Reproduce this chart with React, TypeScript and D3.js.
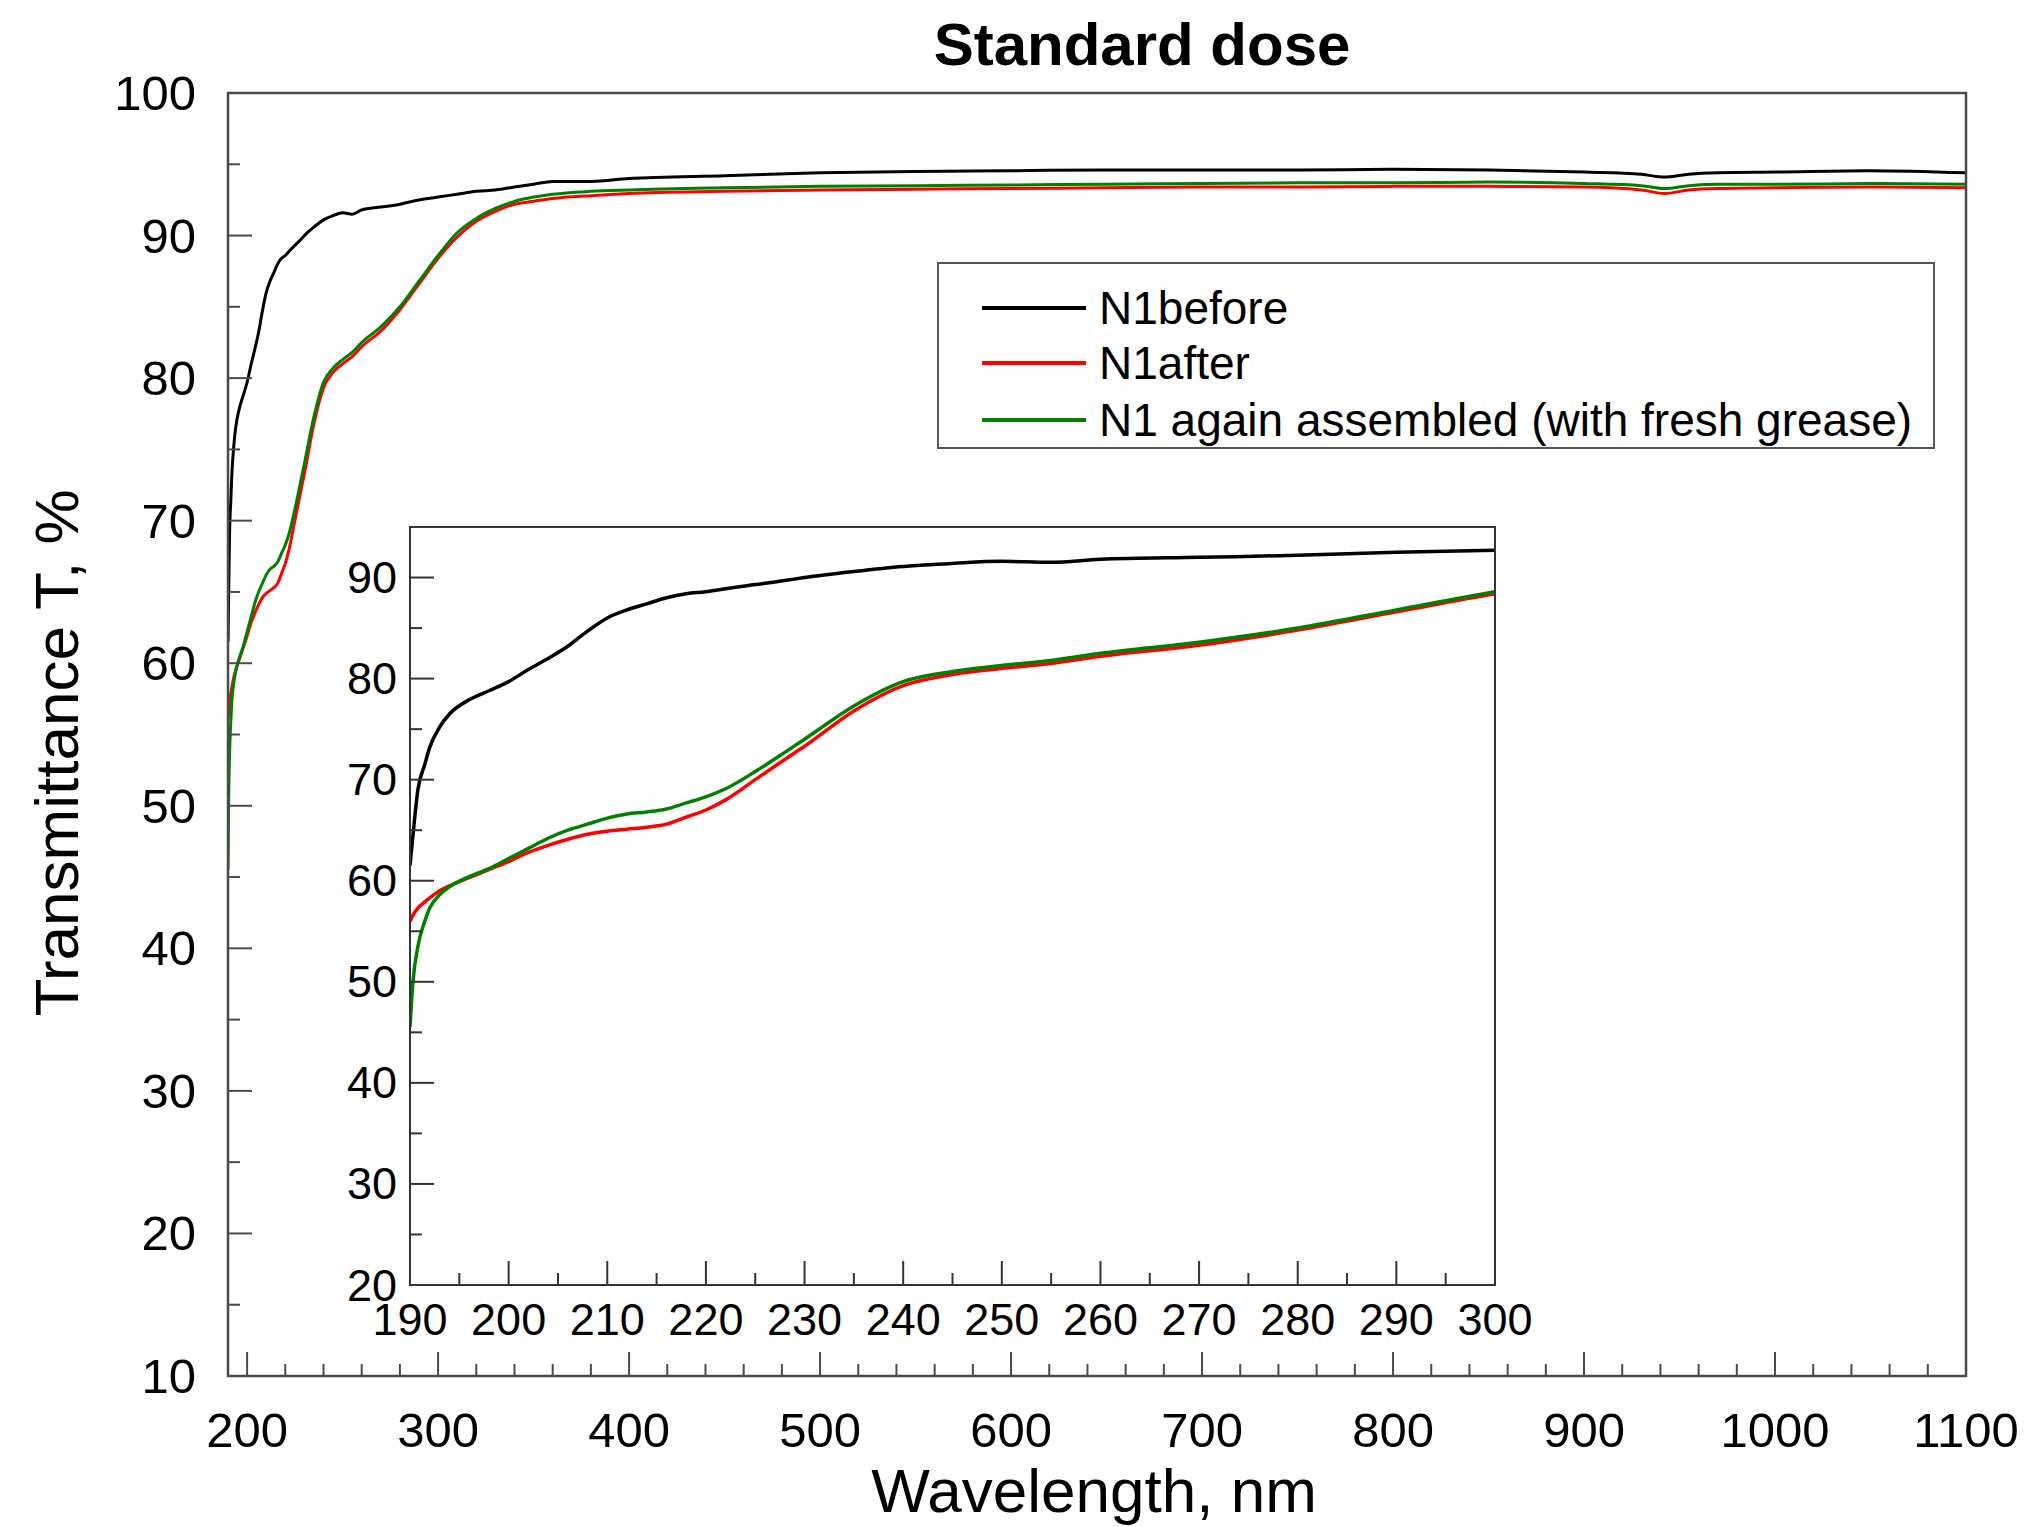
import React from "react";
import * as d3 from "d3";

const wavelengths = [
  190, 190.3, 190.8, 191.5, 192, 193, 194, 196, 198, 200, 202, 204, 206, 208, 210, 212, 214, 216, 218, 220,
  222, 225, 228, 230, 235, 240, 245, 250, 255, 260, 270, 280, 290, 300, 310, 320, 330, 340, 350, 360, 380,
  400, 450, 500, 550, 600, 650, 700, 750, 800, 850, 900, 930, 942, 955, 970, 1000, 1050, 1100,
];

const n1Before = [
  61.5, 64.5, 69.0, 71.5, 73.2, 75.2, 76.5, 77.9, 78.8, 79.7, 80.9, 82.0, 83.2, 84.7, 86.0, 86.8, 87.4, 88.0, 88.4, 88.6,
  88.9, 89.3, 89.7, 90.0, 90.6, 91.1, 91.4, 91.6, 91.5, 91.8, 92.0, 92.2, 92.5, 92.7, 92.9, 93.1, 93.2, 93.4, 93.6, 93.8, 93.8,
  94.0, 94.2, 94.4, 94.5, 94.55, 94.6, 94.6, 94.6, 94.65, 94.6, 94.45, 94.3, 94.1, 94.3, 94.4, 94.45, 94.55, 94.4,
];

const n1After = [
  56.0, 56.6, 57.3, 57.9, 58.3, 59.0, 59.5, 60.3, 61.1, 61.9, 62.8, 63.5, 64.1, 64.6, 64.9, 65.1, 65.3, 65.6, 66.3, 67.0,
  68.0, 70.0, 72.0, 73.3, 76.8, 79.3, 80.4, 81.0, 81.5, 82.2, 83.3, 84.8, 86.6, 88.4, 89.9, 91.0, 91.7, 92.2, 92.4, 92.6, 92.8,
  92.95, 93.1, 93.2, 93.25, 93.3, 93.35, 93.4, 93.4, 93.45, 93.45, 93.4, 93.2, 92.95, 93.2, 93.3, 93.35, 93.4, 93.35,
];

const n1Again = [
  45.5, 50.0, 53.5, 56.0, 57.3, 58.6, 59.4, 60.4, 61.2, 62.2, 63.2, 64.2, 65.0, 65.6, 66.2, 66.6, 66.8, 67.1, 67.7, 68.3,
  69.1, 70.8, 72.7, 74.0, 77.3, 79.7, 80.7, 81.3, 81.8, 82.5, 83.6, 85.0, 86.8, 88.6, 90.2, 91.2, 91.9, 92.4, 92.7, 92.9, 93.1,
  93.2, 93.35, 93.45, 93.5, 93.55, 93.6, 93.65, 93.7, 93.7, 93.75, 93.65, 93.5, 93.3, 93.5, 93.6, 93.6, 93.65, 93.6,
];

const seriesNames = ["N1before", "N1after", "N1 again assembled (with fresh grease)"];
const seriesColors = ["#000000", "#ff0000", "#008000"];
const seriesValues = [n1Before, n1After, n1Again];

const mainXTicks = [200, 300, 400, 500, 600, 700, 800, 900, 1000, 1100];
const mainYTicks = [10, 20, 30, 40, 50, 60, 70, 80, 90, 100];
const insetXTicks = [190, 200, 210, 220, 230, 240, 250, 260, 270, 280, 290, 300];
const insetYTicks = [20, 30, 40, 50, 60, 70, 80, 90];

const FONT = "'Liberation Sans', Arial, Helvetica, sans-serif";

export default function App() {
  // main plot
  const mL = 228, mR = 1966, mT = 93, mB = 1376;
  const x = d3.scaleLinear().domain([190, 1100]).range([mL, mR]);
  const y = d3.scaleLinear().domain([10, 100]).range([mB, mT]);
  // inset
  const iL = 410, iR = 1495, iT = 527, iB = 1285;
  const xi = d3.scaleLinear().domain([190, 300]).range([iL, iR]);
  const yi = d3.scaleLinear().domain([20, 95]).range([iB, iT]);

  const pts = (vals: number[]) => wavelengths.map((w, i) => [w, vals[i]] as [number, number]);
  const lineMain = d3.line<[number, number]>().x((d) => x(d[0])).y((d) => y(d[1])).curve(d3.curveMonotoneX);
  const lineInset = d3
    .line<[number, number]>()
    .x((d) => xi(d[0]))
    .y((d) => yi(d[1]))
    .curve(d3.curveMonotoneX);

  const mainXMinor = d3.range(220, 1100, 20).filter((v) => v % 100 !== 0);
  const mainYMinor = d3.range(15, 100, 10);
  const insetXMinor = d3.range(195, 300, 10);
  const insetYMinor = d3.range(25, 95, 10);

  const MAJ = 24, MIN = 12;
  const axisColor = "#4a4a4a";

  const legendX0 = 982, legendX1 = 1086, legendTextX = 1099;
  const legendYs = [308, 363, 420];

  return (
    <svg
      width={2030}
      height={1527}
      style={{ position: "absolute", left: 0, top: 0, background: "#fff" }}
      fontFamily={FONT}
    >
      <rect x={0} y={0} width={2030} height={1527} fill="#fff" />
      {/* title */}
      <text x={1142} y={65} fontSize={60} fontWeight="bold" textAnchor="middle">
        Standard dose
      </text>

      {/* main curves */}
      <defs>
        <clipPath id="mainClip">
          <rect x={mL} y={mT} width={mR - mL} height={mB - mT} />
        </clipPath>
        <clipPath id="insetClip">
          <rect x={iL} y={iT} width={iR - iL} height={iB - iT} />
        </clipPath>
      </defs>
      <g clipPath="url(#mainClip)">
        {seriesValues.map((vals, i) => (
          <path key={i} d={lineMain(pts(vals)) || ""} fill="none" stroke={seriesColors[i]} strokeWidth={3} />
        ))}
      </g>

      {/* main frame */}
      <rect x={mL} y={mT} width={mR - mL} height={mB - mT} fill="none" stroke={axisColor} strokeWidth={2.5} />
      {mainXTicks.map((t) => (
        <g key={"mx" + t}>
          <line x1={x(t)} x2={x(t)} y1={mB} y2={mB - MAJ} stroke={axisColor} strokeWidth={2} />
          <text x={x(t)} y={1447} fontSize={49} textAnchor="middle">
            {t}
          </text>
        </g>
      ))}
      {mainXMinor.map((t) => (
        <line key={"mxm" + t} x1={x(t)} x2={x(t)} y1={mB} y2={mB - MIN} stroke={axisColor} strokeWidth={2} />
      ))}
      {mainYTicks.map((t) => (
        <g key={"my" + t}>
          <line x1={mL} x2={mL + MAJ} y1={y(t)} y2={y(t)} stroke={axisColor} strokeWidth={2} />
          <text x={196} y={y(t)} fontSize={49} textAnchor="end" dominantBaseline="central">
            {t}
          </text>
        </g>
      ))}
      {mainYMinor.map((t) => (
        <line key={"mym" + t} x1={mL} x2={mL + MIN} y1={y(t)} y2={y(t)} stroke={axisColor} strokeWidth={2} />
      ))}

      {/* axis titles */}
      <text x={1094} y={1512} fontSize={62} textAnchor="middle">
        Wavelength, nm
      </text>
      <text transform="translate(78,753) rotate(-90)" fontSize={62} textAnchor="middle">
        Transmittance T, %
      </text>

      {/* legend */}
      <rect x={938} y={263} width={996} height={185} fill="#fff" stroke="#555" strokeWidth={2} />
      {seriesNames.map((name, i) => (
        <g key={"lg" + i}>
          <line x1={legendX0} x2={legendX1} y1={legendYs[i]} y2={legendYs[i]} stroke={seriesColors[i]} strokeWidth={4} />
          <text x={legendTextX} y={legendYs[i]} fontSize={46} dominantBaseline="central">
            {name}
          </text>
        </g>
      ))}

      {/* inset */}
      <rect x={iL} y={iT} width={iR - iL} height={iB - iT} fill="#fff" />
      <g clipPath="url(#insetClip)">
        {seriesValues.map((vals, i) => (
          <path key={"in" + i} d={lineInset(pts(vals)) || ""} fill="none" stroke={seriesColors[i]} strokeWidth={3.5} />
        ))}
      </g>
      <rect x={iL} y={iT} width={iR - iL} height={iB - iT} fill="none" stroke="#333" strokeWidth={2} />
      {insetXTicks.map((t) => (
        <g key={"ix" + t}>
          <line x1={xi(t)} x2={xi(t)} y1={iB} y2={iB - MAJ} stroke="#333" strokeWidth={2} />
          <text x={xi(t)} y={1335} fontSize={45} textAnchor="middle">
            {t}
          </text>
        </g>
      ))}
      {insetXMinor.map((t) => (
        <line key={"ixm" + t} x1={xi(t)} x2={xi(t)} y1={iB} y2={iB - MIN} stroke="#333" strokeWidth={2} />
      ))}
      {insetYTicks.map((t) => (
        <g key={"iy" + t}>
          <line x1={iL} x2={iL + MAJ} y1={yi(t)} y2={yi(t)} stroke="#333" strokeWidth={2} />
          <text x={397} y={yi(t)} fontSize={45} textAnchor="end" dominantBaseline="central">
            {t}
          </text>
        </g>
      ))}
      {insetYMinor.map((t) => (
        <line key={"iym" + t} x1={iL} x2={iL + MIN} y1={yi(t)} y2={yi(t)} stroke="#333" strokeWidth={2} />
      ))}
    </svg>
  );
}
